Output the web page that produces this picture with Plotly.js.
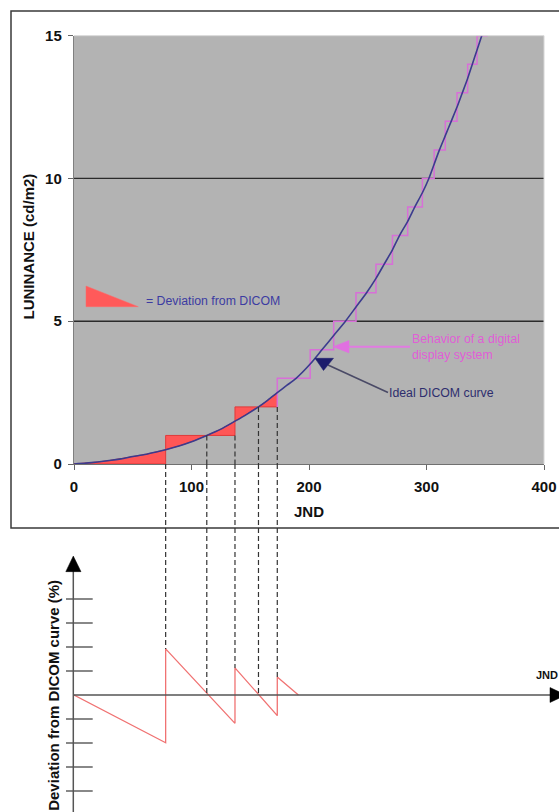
<!DOCTYPE html>
<html>
<head>
<meta charset="utf-8">
<script src="https://cdn.plot.ly/plotly-3.0.1.min.js"></script>
<style>html,body{margin:0;padding:0;background:#fff;}#chart{width:559px;height:812px;}</style>
</head>
<body>
<div id="chart"></div>
<script>
// ---- data ----
// ideal DICOM curve (JND vs luminance cd/m2)
const curveJND = [0,10,20,30,40,50,60,70,78,90,100,113,125,137,147,157,165,173,181,189,201,211,221,231,240,249,257,264,271,277,284,290,296.5,302,306.5,311,316,321,326,330.5,335,339,343,347];
const curveLum = [0,0.03,0.07,0.12,0.18,0.26,0.33,0.42,0.5,0.64,0.78,1.0,1.22,1.5,1.74,2.0,2.24,2.5,2.75,3.0,3.5,4.0,4.5,5.0,5.5,6.0,6.5,7.0,7.5,8.0,8.5,9.0,9.5,10,10.5,11,11.5,12,12.5,13,13.5,14,14.5,15];
// digital display staircase: JND where each level starts
const stepJND = [0,78,137,173,201,221,240,257,271,284,296.5,306.5,316,326,335,343,352];
const stepLevel = [0,1,2,3,4,5,6,7,8,9,10,11,12,13,14,15,15];
// deviation sawtooth (bottom chart, tick units)
const sawJND = [0,78,78,137,137,173,173,191];
const sawDev = [0,-1.99,1.92,-1.18,1.13,-0.86,0.75,0];
// guide lines
const guideJND = [78,113,137,157,173];
const guideTopLum = [0,1,1,2,2];
const guideBottomDev = [1.92,0,1.13,0,0.75];
// axes
const xTicks = [0,100,200,300,400];
const yTicks = [0,5,10,15];
const gridLum = [5,10];
const devTicks = [-4,-3,-2,-1,1,2,3,4];

// ---- helpers for decoration placement ----
const W = 559, H = 812;
const px = x => x / W, py = y => 1 - y / H;
const FONT = 'Liberation Sans, Arial, sans-serif';
const y2Range = [-4.875, 9.625];

// red deviation polygon: curve up to 173 forward, staircase back
const fillX = [], fillY = [];
curveJND.forEach((x, i) => { if (x <= 173) { fillX.push(x); fillY.push(curveLum[i]); } });
for (let i = 3; i >= 1; i--) {
  fillX.push(stepJND[i]); fillY.push(stepLevel[i - 1]);
  fillX.push(stepJND[i - 1]); fillY.push(stepLevel[i - 1]);
}
// pink staircase from 173 on
const pinkX = [], pinkY = [];
for (let i = 3; i < stepJND.length - 1; i++) {
  pinkX.push(stepJND[i]); pinkY.push(stepLevel[i - 1]);
  pinkX.push(stepJND[i]); pinkY.push(stepLevel[i]);
}
pinkX.push(stepJND[stepJND.length - 1]); pinkY.push(stepLevel[stepLevel.length - 1]);

const traces = [
  { x: fillX, y: fillY, type: 'scatter', mode: 'lines', fill: 'toself', fillcolor: '#ff5656',
    line: { color: '#e03a3a', width: 1 }, xaxis: 'x', yaxis: 'y', hoverinfo: 'skip' },
  { x: pinkX, y: pinkY, type: 'scatter', mode: 'lines', line: { color: '#d86fd8', width: 1.5 },
    xaxis: 'x', yaxis: 'y', hoverinfo: 'skip' },
  { x: curveJND, y: curveLum, type: 'scatter', mode: 'lines', line: { color: '#3b3b8e', width: 1.6, shape: 'spline', smoothing: 0.6 },
    xaxis: 'x', yaxis: 'y', hoverinfo: 'skip' },
  { x: sawJND, y: sawDev, type: 'scatter', mode: 'lines', line: { color: '#f07272', width: 1.3 },
    xaxis: 'x2', yaxis: 'y2', hoverinfo: 'skip', cliponaxis: false }
];

const shapes = [];
// grey plot background (top chart only)
shapes.push({ type: 'rect', xref: 'x', yref: 'y', x0: 0, x1: 400, y0: 0, y1: 15,
  fillcolor: '#b3b3b3', line: { width: 0 }, layer: 'below' });
// outer frame
shapes.push({ type: 'rect', xref: 'paper', yref: 'paper', x0: px(11), x1: px(580), y0: py(528), y1: py(11),
  line: { color: '#3a3a3a', width: 1.5 }, fillcolor: 'rgba(0,0,0,0)', layer: 'above' });
// light top/right plot border
shapes.push({ type: 'line', xref: 'paper', yref: 'paper', x0: px(74), x1: px(544), y0: py(35.7), y1: py(35.7), line: { color: '#d6d6d6', width: 1 }, layer: 'above' });
shapes.push({ type: 'line', xref: 'paper', yref: 'paper', x0: px(544), x1: px(544), y0: py(35.7), y1: py(464), line: { color: '#d6d6d6', width: 1 }, layer: 'above' });
// gridlines
gridLum.forEach(v => shapes.push({ type: 'line', xref: 'x', yref: 'y', x0: 0, x1: 400, y0: v, y1: v,
  line: { color: '#2b2b2b', width: 1.3 }, layer: 'below' }));
// dashed guides
guideJND.forEach((g, i) => {
  if (guideTopLum[i] > 0) shapes.push({ type: 'line', xref: 'x', yref: 'y', x0: g, x1: g, y0: guideTopLum[i], y1: 0,
    line: { color: '#333', width: 1.2, dash: '5px,3px' }, layer: 'above' });
  shapes.push({ type: 'line', xref: 'x2', yref: 'y2', x0: g, x1: g, y0: y2Range[1], y1: guideBottomDev[i],
    line: { color: '#333', width: 1.2, dash: '5px,3px' }, layer: 'above' });
});
// legend triangle
shapes.push({ type: 'path', xref: 'paper', yref: 'paper',
  path: `M ${px(86)},${py(286)} L ${px(86)},${py(306.7)} L ${px(138.3)},${py(306.7)} Z`,
  fillcolor: '#ff5a5a', line: { color: '#ff6a6a', width: 0.5 }, layer: 'above' });
// pink arrow
shapes.push({ type: 'line', xref: 'paper', yref: 'paper', x0: px(410), x1: px(346), y0: py(346.7), y1: py(346.7),
  line: { color: '#e27ae2', width: 2 }, layer: 'above' });
shapes.push({ type: 'path', xref: 'paper', yref: 'paper',
  path: `M ${px(333)},${py(346.7)} L ${px(349)},${py(340.5)} L ${px(349)},${py(352.9)} Z`,
  fillcolor: '#e070e0', line: { color: '#e070e0', width: 0.5 }, layer: 'above' });
// navy arrow
shapes.push({ type: 'line', xref: 'paper', yref: 'paper', x0: px(388), x1: px(328), y0: py(392.5), y1: py(365),
  line: { color: '#4a4a66', width: 1.6 }, layer: 'above' });
shapes.push({ type: 'path', xref: 'paper', yref: 'paper',
  path: `M ${px(315)},${py(358.3)} L ${px(333.5)},${py(358.3)} L ${px(323.5)},${py(370.5)} Z`,
  fillcolor: '#1d1d6c', line: { color: '#1d1d6c', width: 0.5 }, layer: 'above' });
// bottom chart: vertical axis with arrow
shapes.push({ type: 'line', xref: 'paper', yref: 'y2', x0: px(73.3), x1: px(73.3), y0: y2Range[0], y1: 5.4,
  line: { color: '#555', width: 1.5 }, layer: 'above' });
shapes.push({ type: 'path', xref: 'paper', yref: 'y2',
  path: `M ${px(65.8)},5.14 L ${px(81)},5.14 L ${px(73.3)},5.79 Z`, fillcolor: '#000', line: { color: '#000', width: 0.5 }, layer: 'above' });
devTicks.forEach(t => shapes.push({ type: 'line', xref: 'paper', yref: 'y2', x0: px(66), x1: px(92.7), y0: t, y1: t,
  line: { color: '#555', width: 1.4 }, layer: 'above' }));
// bottom chart: zero axis with arrow
shapes.push({ type: 'line', xref: 'paper', yref: 'y2', x0: px(73.3), x1: px(552), y0: 0, y1: 0,
  line: { color: '#555', width: 1.5 }, layer: 'above' });
shapes.push({ type: 'path', xref: 'paper', yref: 'y2',
  path: `M ${px(550)},0.31 L ${px(550)},-0.31 L ${px(566)},0 Z`, fillcolor: '#000', line: { color: '#000', width: 0.5 }, layer: 'above' });

const annotations = [
  { text: 'LUNINANCE (cd/m2)', xref: 'paper', yref: 'paper', x: px(27.5), y: py(247), textangle: -90, showarrow: false,
    xanchor: 'center', yanchor: 'middle', font: { family: FONT, size: 15, weight: 'bold', color: '#111' } },
  { text: 'JND', xref: 'paper', yref: 'paper', x: px(308.5), y: py(511.7), showarrow: false,
    xanchor: 'center', yanchor: 'middle', font: { family: FONT, size: 15, weight: 'bold', color: '#111' } },
  { text: '= Deviation from DICOM', xref: 'paper', yref: 'paper', x: px(144), y: py(300.7), showarrow: false,
    xanchor: 'left', yanchor: 'middle', font: { family: FONT, size: 12.3, color: '#3c3ca2' } },
  { text: 'Behavior of a digital<br>display system', xref: 'paper', yref: 'paper', x: px(410), y: py(346.8), showarrow: false,
    xanchor: 'left', yanchor: 'middle', align: 'left', font: { family: FONT, size: 12.3, color: '#e05ed6' } },
  { text: 'Ideal DICOM curve', xref: 'paper', yref: 'paper', x: px(387), y: py(392.7), showarrow: false,
    xanchor: 'left', yanchor: 'middle', font: { family: FONT, size: 12.3, color: '#2e2e6e' } },
  { text: 'Deviation from DICOM curve (%)', xref: 'paper', yref: 'paper', x: px(53.3), y: py(695.5), textangle: -90, showarrow: false,
    xanchor: 'center', yanchor: 'middle', font: { family: FONT, size: 15, weight: 'bold', color: '#111' } },
  { text: 'JND', xref: 'paper', yref: 'paper', x: px(534), y: py(675), showarrow: false,
    xanchor: 'left', yanchor: 'middle', font: { family: FONT, size: 11, weight: 'bold', color: '#111' } }
];

const tickFont = { family: FONT, size: 15, weight: 'bold', color: '#111' };
const layout = {
  width: W, height: H,
  margin: { l: 0, r: 0, t: 0, b: 0, pad: 0 },
  paper_bgcolor: '#ffffff',
  plot_bgcolor: '#ffffff',
  showlegend: false,
  xaxis: { domain: [px(74), px(544)], range: [0, 400], tickvals: xTicks, ticktext: xTicks.map(String),
    ticks: 'outside', ticklen: 5, tickcolor: '#666', showline: true, linecolor: '#707070', linewidth: 1.2,
    showgrid: false, zeroline: false, tickfont: tickFont, ticklabelstandoff: 4, anchor: 'y', fixedrange: true },
  yaxis: { domain: [py(464), py(35.7)], range: [0, 15], tickvals: yTicks, ticktext: yTicks.map(String),
    ticks: 'outside', ticklen: 5, tickcolor: '#666', showline: true, linecolor: '#808080', linewidth: 1.2,
    showgrid: false, zeroline: false, tickfont: tickFont, ticklabelstandoff: 3, anchor: 'x', fixedrange: true },
  xaxis2: { domain: [px(74), px(544)], range: [0, 400], visible: false, anchor: 'y2', fixedrange: true },
  yaxis2: { domain: [0, py(464)], range: y2Range, visible: false, anchor: 'x2', fixedrange: true },
  shapes: shapes,
  annotations: annotations
};

Plotly.newPlot('chart', traces, layout, { displayModeBar: false, staticPlot: true });
</script>
</body>
</html>
